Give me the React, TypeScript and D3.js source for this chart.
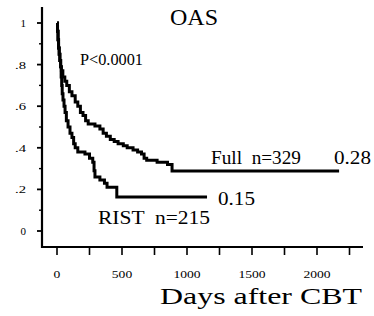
import React from "react";
import * as d3 from "d3";

// Kaplan-Meier estimates (days, survival)
const fullDays = [0, 4, 8, 12, 17, 22, 28, 34, 45, 60, 75, 95, 115, 140, 160, 180, 200, 220, 240, 292, 330, 355, 380, 410, 440, 470, 510, 540, 585, 620, 650, 670, 690, 770, 850, 885, 2170];
const fullSurv = [1.0, 0.96, 0.92, 0.88, 0.85, 0.82, 0.79, 0.77, 0.74, 0.72, 0.7, 0.67, 0.65, 0.62, 0.6, 0.57, 0.555, 0.53, 0.515, 0.505, 0.49, 0.47, 0.455, 0.44, 0.43, 0.42, 0.41, 0.4, 0.39, 0.38, 0.37, 0.35, 0.34, 0.33, 0.32, 0.288, 0.288];

const ristDays = [0, 4, 8, 12, 17, 22, 28, 32, 36, 40, 46, 54, 62, 72, 85, 100, 115, 128, 140, 160, 215, 250, 275, 285, 292, 330, 365, 385, 460, 1154];
const ristSurv = [1.0, 0.96, 0.92, 0.88, 0.85, 0.82, 0.79, 0.74, 0.7, 0.66, 0.63, 0.6, 0.57, 0.53, 0.5, 0.47, 0.45, 0.42, 0.4, 0.38, 0.37, 0.35, 0.33, 0.29, 0.26, 0.245, 0.23, 0.21, 0.163, 0.163];

const xTickLabels = [0, 500, 1000, 1500, 2000];
const xMinorTicks = [0, 250, 500, 750, 1000, 1250, 1500, 1750, 2000, 2250];
const yTickValues = [1, 0.8, 0.6, 0.4, 0.2, 0];
const yTickLabels = ["1", ".8", ".6", ".4", ".2", "0"];
const yMinorTicks = [0.9, 0.7, 0.5, 0.3, 0.1];

const FONT = "Times New Roman, Liberation Serif, Times, serif";

const App: React.FC = () => {
    const width = 374;
    const height = 316;

    const x = d3.scaleLinear().domain([0, 2000]).range([57, 317]);
    const y = d3.scaleLinear().domain([0, 1]).range([231, 23]);

    const axisX = 42;
    const axisY = 247;

    const line = d3
        .line<[number, number]>()
        .x((d) => x(d[0]))
        .y((d) => y(d[1]))
        .curve(d3.curveStepAfter);

    const fullPts = fullDays.map((d, i) => [d, fullSurv[i]] as [number, number]);
    const ristPts = ristDays.map((d, i) => [d, ristSurv[i]] as [number, number]);

    return (
        <svg
            width={width}
            height={height}
            fontFamily={FONT}
            style={{ position: "absolute", left: 0, top: 0, background: "#fff" }}
        >
            {/* axes */}
            <line x1={axisX} x2={axisX} y1={7} y2={axisY + 1} stroke="#000" strokeWidth={2.2} />
            <line x1={axisX - 1} x2={363} y1={axisY} y2={axisY} stroke="#000" strokeWidth={2} />

            {yTickValues.map((v, i) => (
                <g key={"yt" + i}>
                    <line x1={axisX - 5} x2={axisX} y1={y(v)} y2={y(v)} stroke="#000" strokeWidth={1.8} />
                    <text
                        x={26}
                        y={y(v) + 4}
                        fontSize={11}
                        textAnchor="end"
                        textLength={yTickLabels[i].length > 1 ? 11 : undefined}
                        lengthAdjust="spacingAndGlyphs"
                    >
                        {yTickLabels[i]}
                    </text>
                </g>
            ))}
            {yMinorTicks.map((v, i) => (
                <line key={"ym" + i} x1={axisX - 3} x2={axisX} y1={y(v)} y2={y(v)} stroke="#000" strokeWidth={1.4} />
            ))}

            {xMinorTicks.map((v, i) => (
                <line key={"xt" + i} x1={x(v)} x2={x(v)} y1={axisY} y2={axisY + 8} stroke="#000" strokeWidth={1.6} />
            ))}
            {xTickLabels.map((v, i) => (
                <text
                    key={"xl" + i}
                    x={x(v)}
                    y={278}
                    fontSize={11}
                    textAnchor="middle"
                    textLength={String(v).length * 6.8}
                    lengthAdjust="spacingAndGlyphs"
                >
                    {v}
                </text>
            ))}

            {/* survival curves */}
            <path d={line(ristPts) ?? ""} fill="none" stroke="#000" strokeWidth={3} />
            <path d={line(fullPts) ?? ""} fill="none" stroke="#000" strokeWidth={3} />

            {/* annotations */}
            <text x={170} y={25} fontSize={24}>OAS</text>
            <text x={80} y={65} fontSize={16} textLength={63} lengthAdjust="spacingAndGlyphs">P&lt;0.0001</text>
            <text x={211} y={164} fontSize={18} style={{ whiteSpace: "pre" }} textLength={90} lengthAdjust="spacingAndGlyphs">Full  n=329</text>
            <text x={334} y={164} fontSize={18} textLength={37} lengthAdjust="spacingAndGlyphs">0.28</text>
            <text x={218} y={205} fontSize={18} textLength={37} lengthAdjust="spacingAndGlyphs">0.15</text>
            <text x={98} y={224} fontSize={18} style={{ whiteSpace: "pre" }} textLength={112} lengthAdjust="spacingAndGlyphs">RIST  n=215</text>
            <text x={160} y={304} fontSize={24} textLength={202} lengthAdjust="spacingAndGlyphs">Days after CBT</text>
        </svg>
    );
};

export default App;
